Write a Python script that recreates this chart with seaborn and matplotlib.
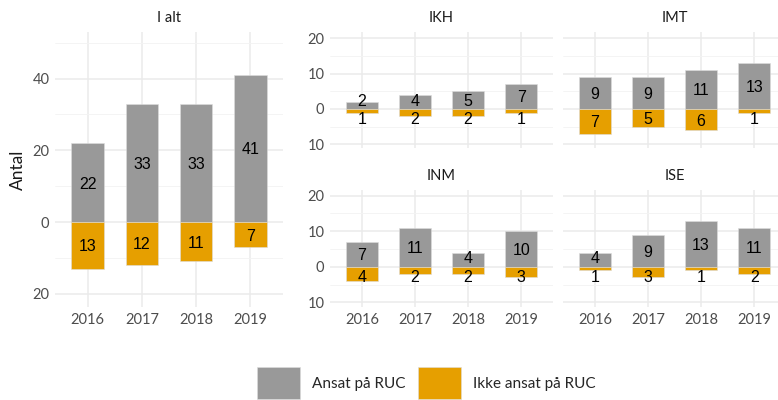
import matplotlib
matplotlib.use("Agg")
import matplotlib.pyplot as plt
import seaborn as sns
import pandas as pd
from matplotlib.patches import Patch
from matplotlib.ticker import FixedLocator, FuncFormatter

# ---- data ----
years = ["2016", "2017", "2018", "2019"]
panels = ["I alt", "IKH", "IMT", "INM", "ISE"]

ansat_i_alt = [22, 33, 33, 41]
ansat_ikh = [2, 4, 5, 7]
ansat_imt = [9, 9, 11, 13]
ansat_inm = [7, 11, 4, 10]
ansat_ise = [4, 9, 13, 11]

ikke_i_alt = [13, 12, 11, 7]
ikke_ikh = [1, 2, 2, 1]
ikke_imt = [7, 5, 6, 1]
ikke_inm = [4, 2, 2, 3]
ikke_ise = [1, 3, 1, 2]

group_labels = ["Ansat på RUC", "Ikke ansat på RUC"]
colors = {"Ansat på RUC": "#999999", "Ikke ansat på RUC": "#E69F00"}

ansat = dict(zip(panels, [ansat_i_alt, ansat_ikh, ansat_imt, ansat_inm, ansat_ise]))
ikke = dict(zip(panels, [ikke_i_alt, ikke_ikh, ikke_imt, ikke_inm, ikke_ise]))

rows = []
for p in panels:
    for y, a, k in zip(years, ansat[p], ikke[p]):
        rows.append({"panel": p, "year": y, "group": group_labels[0], "value": a})
        rows.append({"panel": p, "year": y, "group": group_labels[1], "value": -k})
df = pd.DataFrame(rows)

# ---- style ----
sns.set_style("white")
TICK_FONT = ["Lato", "DejaVu Sans"]
NUM_FONT = ["Liberation Sans", "DejaVu Sans"]
plt.rcParams["font.family"] = TICK_FONT

W, H = 778, 400
fig = plt.figure(figsize=(W / 100, H / 100), dpi=100)


def rect(x0, y0, x1, y1):
    return [x0 / W, 1 - y1 / H, (x1 - x0) / W, (y1 - y0) / H]


layout = {
    "I alt": (rect(55, 32, 283, 307), (-23.7, 53), [-20, 0, 20, 40], [-10, 10, 30, 50], True, True, 2.0),
    "IKH": (rect(330, 32, 553, 148), (-11.0, 21.7), [-10, 0, 10, 20], [-5, 5, 15], True, False, 2.6),
    "IMT": (rect(563, 32, 786, 148), (-11.0, 21.7), [-10, 0, 10, 20], [-5, 5, 15], False, False, 2.6),
    "INM": (rect(330, 190, 553, 307), (-11.3, 21.6), [-10, 0, 10, 20], [-5, 5, 15], True, True, 2.6),
    "ISE": (rect(563, 190, 786, 307), (-11.3, 21.6), [-10, 0, 10, 20], [-5, 5, 15], False, True, 2.6),
}

for p in panels:
    r, ylim, majors, minors, show_y, show_x, minpos = layout[p]
    ax = fig.add_axes(r)
    sub = df[df.panel == p]
    sns.barplot(data=sub, x="year", y="value", hue="group", order=years,
                hue_order=group_labels, palette=colors, dodge=False,
                width=0.6, saturation=1, errorbar=None, legend=False, ax=ax,
                edgecolor="#dddddd", linewidth=0.4, zorder=3)
    ax.set_xlim(-0.6, 3.6)
    ax.set_ylim(*ylim)
    ax.yaxis.set_major_locator(FixedLocator(majors))
    ax.yaxis.set_minor_locator(FixedLocator(minors))
    ax.yaxis.set_major_formatter(FuncFormatter(lambda v, pos: f"{abs(int(round(v)))}"))
    ax.grid(True, which="major", axis="both", color="#EBEBEB", linewidth=1.1, zorder=0)
    ax.grid(True, which="minor", axis="y", color="#F3F3F3", linewidth=0.6, zorder=0)
    ax.set_axisbelow(True)
    for s in ax.spines.values():
        s.set_visible(False)
    ax.tick_params(axis="both", which="both", length=0, labelsize=10.5,
                   labelcolor="#4D4D4D", pad=4)
    ax.set_xlabel("")
    ax.set_ylabel("Antal" if p == "I alt" else "", fontsize=12.5, color="#1A1A1A", labelpad=5)
    if not show_y:
        ax.set_yticklabels([])
    if not show_x:
        ax.set_xticklabels([])
    ax.set_title(p, fontsize=10.5, color="#1A1A1A", pad=7)

    # value labels
    for i, (a, k) in enumerate(zip(ansat[p], ikke[p])):
        ya = max(a / 2, minpos) - 0.4
        yk = -max(k / 2, minpos) - 0.4
        ax.text(i, ya, str(a), ha="center", va="center", fontsize=11.5,
                family=NUM_FONT, color="#000000", zorder=5)
        ax.text(i, yk, str(k), ha="center", va="center", fontsize=11.5,
                family=NUM_FONT, color="#000000", zorder=5)

handles = [Patch(facecolor=colors[g], edgecolor="#dddddd", linewidth=0.4) for g in group_labels]
fig.legend(handles, group_labels, loc="center", bbox_to_anchor=(0.548, 0.0425),
           ncol=2, frameon=False, fontsize=11, handlelength=2.8, handleheight=2.8,
           handletextpad=0.8, columnspacing=0.8)

fig.savefig("out.png", dpi=100)
